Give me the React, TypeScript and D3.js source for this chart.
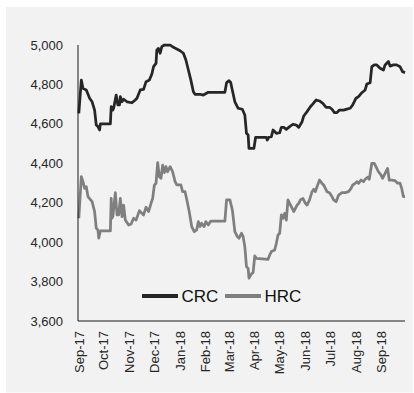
import React from "react";
import * as d3 from "d3";

const yTicks = [3600, 3800, 4000, 4200, 4400, 4600, 4800, 5000];
const monthTicks = [
  "2017-09-01", "2017-10-01", "2017-11-01", "2017-12-01", "2018-01-01", "2018-02-01",
  "2018-03-01", "2018-04-01", "2018-05-01", "2018-06-01", "2018-07-01", "2018-08-01", "2018-09-01",
];
const seriesNames = ["CRC", "HRC"];

const crcDates = [
  "2017-09-02", "2017-09-05", "2017-09-07", "2017-09-11", "2017-09-15", "2017-09-18", "2017-09-21", "2017-09-23",
  "2017-09-25", "2017-09-27", "2017-09-28", "2017-10-10", "2017-10-11", "2017-10-13", "2017-10-14", "2017-10-17",
  "2017-10-19", "2017-10-21", "2017-10-22", "2017-10-24", "2017-10-26", "2017-10-30", "2017-11-05", "2017-11-09",
  "2017-11-11", "2017-11-15", "2017-11-19", "2017-11-22", "2017-11-26", "2017-11-29", "2017-12-01", "2017-12-04",
  "2017-12-05", "2017-12-07", "2017-12-09", "2017-12-11", "2017-12-14", "2017-12-21", "2017-12-25", "2017-12-29",
  "2018-01-02", "2018-01-06", "2018-01-09", "2018-01-12", "2018-01-15", "2018-01-18", "2018-01-20", "2018-01-26",
  "2018-01-30", "2018-02-05", "2018-02-25", "2018-02-27", "2018-03-02", "2018-03-04", "2018-03-05", "2018-03-09",
  "2018-03-13", "2018-03-18", "2018-03-21", "2018-03-23", "2018-03-25", "2018-03-26", "2018-04-01", "2018-04-03",
  "2018-04-16", "2018-04-17", "2018-04-19", "2018-04-22", "2018-04-24", "2018-04-28", "2018-05-02", "2018-05-04",
  "2018-05-07", "2018-05-10", "2018-05-14", "2018-05-18", "2018-05-22", "2018-05-25", "2018-05-29", "2018-05-31",
  "2018-06-04", "2018-06-08", "2018-06-11", "2018-06-15", "2018-06-19", "2018-06-23", "2018-06-27", "2018-07-01",
  "2018-07-04", "2018-07-07", "2018-07-10", "2018-07-13", "2018-07-18", "2018-07-22", "2018-07-26", "2018-07-29",
  "2018-08-02", "2018-08-05", "2018-08-09", "2018-08-13", "2018-08-15", "2018-08-19", "2018-08-21", "2018-08-24",
  "2018-08-27", "2018-08-31", "2018-09-04", "2018-09-06", "2018-09-10", "2018-09-12", "2018-09-16", "2018-09-20",
  "2018-09-24", "2018-09-27", "2018-09-30",
];
const crcValues = [
  4653, 4822, 4780, 4772, 4730, 4712, 4670, 4594,
  4586, 4569, 4600, 4600, 4687, 4670, 4680, 4746,
  4696, 4696, 4738, 4712, 4725, 4712, 4707, 4721,
  4730, 4772, 4775, 4814, 4822, 4853, 4890, 4907,
  4975, 4983, 4958, 4992, 5000, 5000, 4988, 4980,
  4971, 4958, 4924, 4873, 4822, 4763, 4750, 4750,
  4746, 4760, 4760, 4809, 4819, 4810, 4789, 4712,
  4679, 4674, 4645, 4552, 4544, 4476, 4476, 4532,
  4532, 4518, 4532, 4535, 4569, 4552, 4555, 4582,
  4582, 4572, 4586, 4598, 4594, 4582, 4611, 4640,
  4662, 4687, 4701, 4721, 4716, 4704, 4684, 4684,
  4674, 4657, 4657, 4670, 4670, 4675, 4679, 4696,
  4730, 4738, 4758, 4772, 4802, 4809, 4890, 4899,
  4899, 4882, 4873, 4899, 4916, 4893, 4899, 4899,
  4890, 4865, 4860,
];

const hrcDates = [
  "2017-09-02", "2017-09-05", "2017-09-07", "2017-09-09", "2017-09-11", "2017-09-13", "2017-09-18", "2017-09-21",
  "2017-09-23", "2017-09-25", "2017-09-26", "2017-09-28", "2017-10-10", "2017-10-11", "2017-10-12", "2017-10-13",
  "2017-10-16", "2017-10-18", "2017-10-20", "2017-10-22", "2017-10-24", "2017-10-26", "2017-10-28", "2017-11-01",
  "2017-11-04", "2017-11-07", "2017-11-10", "2017-11-14", "2017-11-17", "2017-11-19", "2017-11-22", "2017-11-25",
  "2017-11-28", "2017-11-30", "2017-12-02", "2017-12-04", "2017-12-06", "2017-12-08", "2017-12-10", "2017-12-12",
  "2017-12-14", "2017-12-16", "2017-12-18", "2017-12-21", "2017-12-24", "2017-12-27", "2017-12-29", "2018-01-03",
  "2018-01-05", "2018-01-08", "2018-01-11", "2018-01-13", "2018-01-16", "2018-01-19", "2018-01-22", "2018-01-24",
  "2018-01-26", "2018-01-28", "2018-01-31", "2018-02-02", "2018-02-05", "2018-02-08", "2018-02-25", "2018-02-27",
  "2018-03-03", "2018-03-06", "2018-03-09", "2018-03-12", "2018-03-14", "2018-03-17", "2018-03-19", "2018-03-21",
  "2018-03-23", "2018-03-25", "2018-03-26", "2018-03-29", "2018-03-31", "2018-04-02", "2018-04-04", "2018-04-18",
  "2018-04-20", "2018-04-22", "2018-04-26", "2018-04-28", "2018-04-30", "2018-05-02", "2018-05-04", "2018-05-06",
  "2018-05-08", "2018-05-10", "2018-05-12", "2018-05-14", "2018-05-17", "2018-05-19", "2018-05-23", "2018-05-25",
  "2018-05-27", "2018-05-30", "2018-06-02", "2018-06-04", "2018-06-07", "2018-06-10", "2018-06-12", "2018-06-14",
  "2018-06-16", "2018-06-19", "2018-06-22", "2018-06-24", "2018-06-26", "2018-06-28", "2018-07-01", "2018-07-04",
  "2018-07-06", "2018-07-09", "2018-07-12", "2018-07-16", "2018-07-20", "2018-07-24", "2018-07-27", "2018-07-29",
  "2018-08-01", "2018-08-03", "2018-08-05", "2018-08-08", "2018-08-11", "2018-08-13", "2018-08-16", "2018-08-18",
  "2018-08-21", "2018-08-24", "2018-08-26", "2018-08-29", "2018-09-01", "2018-09-03", "2018-09-06", "2018-09-09",
  "2018-09-11", "2018-09-14", "2018-09-18", "2018-09-21", "2018-09-24", "2018-09-26", "2018-09-28", "2018-09-30",
];
const hrcValues = [
  4121, 4332, 4307, 4273, 4281, 4231, 4205, 4155,
  4070, 4062, 4020, 4057, 4057, 4222, 4121, 4130,
  4251, 4138, 4138, 4222, 4129, 4188, 4112, 4087,
  4092, 4121, 4112, 4160, 4146, 4138, 4177, 4155,
  4197, 4222, 4290, 4298, 4403, 4332, 4324, 4391,
  4353, 4383, 4357, 4383, 4357, 4307, 4290, 4290,
  4256, 4256, 4197, 4155, 4079, 4053, 4062, 4104,
  4079, 4096, 4079, 4104, 4087, 4107, 4107, 4214,
  4214, 4163, 4053, 4028, 4020, 4045, 4028, 3977,
  3876, 3867, 3817, 3839, 3845, 3930, 3918, 3913,
  3935, 3952, 3960, 3994, 4036, 4045, 4138, 4121,
  4146, 4112, 4214, 4197, 4172, 4155, 4188, 4197,
  4214, 4222, 4197, 4188, 4214, 4256, 4268, 4256,
  4281, 4315, 4298, 4290, 4273, 4256, 4251, 4231,
  4214, 4205, 4239, 4251, 4251, 4256, 4273, 4290,
  4298, 4307, 4298, 4315, 4307, 4319, 4329, 4319,
  4400, 4400, 4383, 4357, 4341, 4324, 4349, 4374,
  4315, 4315, 4312, 4299, 4299, 4273, 4231, 4231,
];

const W = 414;
const H = 393;
const left = 78;
const right = 405;
const top = 45;
const bottom = 321;
const FONT = "'Liberation Sans', Arial, sans-serif";

export default function App() {
  const parse = d3.timeParse("%Y-%m-%d");
  const x = d3
    .scaleTime()
    .domain([parse("2017-09-01") as Date, parse("2018-09-30") as Date])
    .range([left, right]);
  const y = d3.scaleLinear().domain([3600, 5000]).range([bottom, top]);
  const fmt = d3.format(",");
  const monthFmt = d3.timeFormat("%b-%y");

  const mk = (dates: string[], vals: number[]) =>
    dates.map((d, i) => ({ d: parse(d) as Date, v: vals[i] }));
  const line = d3
    .line<{ d: Date; v: number }>()
    .x((p) => x(p.d))
    .y((p) => y(p.v))
    .curve(d3.curveLinear);

  const crc = mk(crcDates, crcValues);
  const hrc = mk(hrcDates, hrcValues);
  const colors = ["#262626", "#7f7f7f"];

  return (
    <svg
      width={W}
      height={H}
      style={{ position: "absolute", left: 0, top: 0, display: "block" }}
      fontFamily={FONT}
    >
      <rect x={0} y={0} width={W} height={H} fill="#ffffff" />
      <rect x={6} y={7} width={407} height={385.5} fill="#f2f2f2" />

      {yTicks.map((t) => (
        <text
          key={t}
          x={63}
          y={y(t)}
          textAnchor="end"
          dominantBaseline="central"
          fontSize={13}
          fill="#262626"
        >
          {fmt(t)}
        </text>
      ))}

      {monthTicks.map((m) => {
        const px = x(parse(m) as Date);
        return (
          <text
            key={m}
            transform={`translate(${px + 1},${331}) rotate(-90)`}
            textAnchor="end"
            dominantBaseline="central"
            fontSize={13}
            fill="#262626"
          >
            {monthFmt(parse(m) as Date)}
          </text>
        );
      })}

      <path d={line(hrc) || ""} fill="none" stroke={colors[1]} strokeWidth={2.75} strokeLinejoin="round" />
      <path d={line(crc) || ""} fill="none" stroke={colors[0]} strokeWidth={2.75} strokeLinejoin="round" />

      <line x1={left} y1={top} x2={left} y2={bottom} stroke="#1a1a1a" strokeWidth={1} />
      <line x1={left} y1={bottom} x2={right} y2={bottom} stroke="#1a1a1a" strokeWidth={1} />

      {/* legend */}
      {seriesNames.map((n, i) => {
        const lx = i === 0 ? 142 : 225;
        return (
          <g key={n}>
            <line x1={lx} y1={296} x2={lx + 36} y2={296} stroke={colors[i]} strokeWidth={4} />
            <text x={lx + 39.5} y={296} dominantBaseline="central" fontSize={17} fill="#111">
              {n}
            </text>
          </g>
        );
      })}
    </svg>
  );
}
